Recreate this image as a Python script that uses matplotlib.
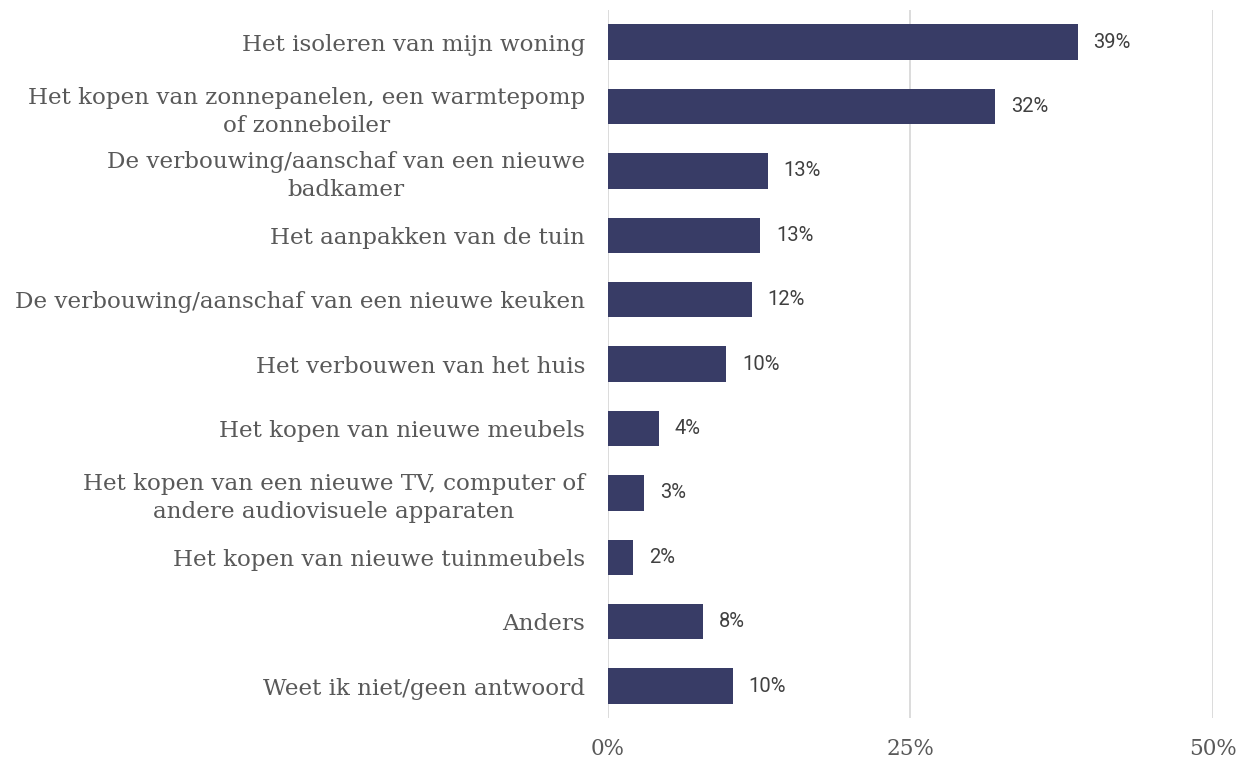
import numpy as np
import matplotlib
matplotlib.use("Agg")
import matplotlib.pyplot as plt

labels = [
    "Het isoleren van mijn woning",
    "Het kopen van zonnepanelen, een warmtepomp\nof zonneboiler",
    "De verbouwing/aanschaf van een nieuwe\nbadkamer",
    "Het aanpakken van de tuin",
    "De verbouwing/aanschaf van een nieuwe keuken",
    "Het verbouwen van het huis",
    "Het kopen van nieuwe meubels",
    "Het kopen van een nieuwe TV, computer of\nandere audiovisuele apparaten",
    "Het kopen van nieuwe tuinmeubels",
    "Anders",
    "Weet ik niet/geen antwoord",
]
values = [38.8, 32.0, 13.2, 12.6, 11.9, 9.8, 4.2, 3.0, 2.1, 7.85, 10.3]
xticks = [0, 25, 50]

bar_color = "#383c66"
text_color = "#595959"

fig = plt.figure(figsize=(12.43, 7.6), dpi=100)
ax = fig.add_axes([0.489, 0.055, 0.487, 0.932])

y = np.arange(len(labels))
ax.barh(y, values, height=0.55, color=bar_color, zorder=3)

for yi, v in zip(y, values):
    ax.text(v + 1.3, yi, f"{round(v):.0f}%", va="center", ha="left",
            fontsize=14.5, family="Roboto", color="#404040")

ax.set_ylim(len(labels) - 0.5, -0.5)
ax.set_xlim(0, 50)
ax.set_yticks(y)
ax.set_yticklabels(labels, family="DejaVu Serif", fontsize=16.6, color=text_color,
                   multialignment="center", linespacing=1.35)
ax.set_xticks(xticks)
ax.set_xticklabels([f"{t}%" for t in xticks], family="DejaVu Serif", fontsize=15.5,
                   color=text_color)
ax.tick_params(axis="both", length=0)
ax.tick_params(axis="y", pad=16.5)
ax.tick_params(axis="x", pad=14)
ax.grid(axis="x", color="#d9d9d9", linewidth=1.3, zorder=0)
for s in ax.spines.values():
    s.set_visible(False)

fig.savefig("out.png", dpi=100, facecolor="white")
